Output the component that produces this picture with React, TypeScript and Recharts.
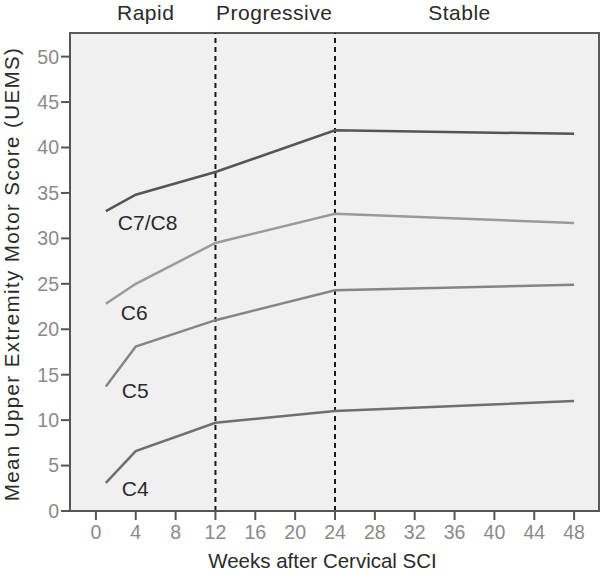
import React from 'react';
import { LineChart, Line, XAxis, YAxis, ReferenceLine, ReferenceArea, LabelList } from 'recharts';

const weeks = [1, 4, 12, 24, 48];
const c78 = [33.0, 34.8, 37.3, 41.9, 41.5];
const c6 = [22.8, 25.0, 29.5, 32.7, 31.7];
const c5 = [13.7, 18.1, 21.0, 24.3, 24.9];
const c4 = [3.1, 6.6, 9.7, 11.0, 12.1];
const xTicks = [0, 4, 8, 12, 16, 20, 24, 28, 32, 36, 40, 44, 48];
const yTicks = [0, 5, 10, 15, 20, 25, 30, 35, 40, 45, 50];
const phaseBounds = [12, 24];
const phases = [
  { name: 'Rapid', center: 5 },
  { name: 'Progressive', center: 17.9 },
  { name: 'Stable', center: 36.5 },
];

const data = weeks.map((w, i) => ({ week: w, c78: c78[i], c6: c6[i], c5: c5[i], c4: c4[i] }));

const X_DOMAIN: [number, number] = [-2.6, 50.5];
const Y_DOMAIN: [number, number] = [0, 52.6];
const FONT = '"Liberation Sans", Arial, sans-serif';

const series = [
  { key: 'c78', label: 'C7/C8', color: '#555555', dx: 12, dy: 12 },
  { key: 'c6', label: 'C6', color: '#9a9a9a', dx: 15, dy: 9 },
  { key: 'c5', label: 'C5', color: '#858585', dx: 16, dy: 4 },
  { key: 'c4', label: 'C4', color: '#6f6f6f', dx: 16, dy: 6 },
];

const makeLabel = (text: string, dx: number, dy: number) => (props: any) => {
  const { x, y, index } = props;
  if (index !== 0) return null;
  return (
    <text x={x + dx} y={y + dy} dy="0.35em" fill="#2a2a2a" fontSize={21} fontFamily={FONT}>
      {text}
    </text>
  );
};

export default function App() {
  return (
    <div style={{ position: 'absolute', left: 0, top: 0, background: '#fff' }}>
      <LineChart width={601} height={578} data={data} margin={{ top: 33, right: 2, bottom: 37, left: 10 }}>
        <ReferenceArea
          x1={X_DOMAIN[0]}
          x2={X_DOMAIN[1]}
          y1={Y_DOMAIN[0]}
          y2={Y_DOMAIN[1]}
          fill="#f0f0f0"
          fillOpacity={1}
          stroke="#5a5a5a"
          strokeWidth={2}
        />
        <XAxis
          type="number"
          dataKey="week"
          domain={X_DOMAIN}
          ticks={xTicks}
          allowDataOverflow
          height={30}
          tickSize={9}
          tickMargin={5}
          stroke="#555"
          strokeWidth={2}
          tick={{ fill: '#8a8a8a', fontSize: 19.5, fontFamily: FONT }}
          label={{ value: 'Weeks after Cervical SCI', position: 'bottom', offset: 12, dx: -12, fill: '#2a2a2a', fontSize: 20.5, fontFamily: FONT }}
        />
        <YAxis
          type="number"
          domain={Y_DOMAIN}
          ticks={yTicks}
          allowDataOverflow
          width={60}
          tickSize={9}
          stroke="#555"
          strokeWidth={2}
          tick={{ fill: '#8a8a8a', fontSize: 19.5, fontFamily: FONT }}
          label={{ value: 'Mean Upper Extremity Motor Score (UEMS)', angle: -90, position: 'center', dx: -28, dy: 2, fill: '#2a2a2a', fontSize: 20.5, letterSpacing: 1.4, fontFamily: FONT }}
        />
        {phaseBounds.map((b) => (
          <ReferenceLine key={b} x={b} stroke="#1a1a1a" strokeWidth={2} strokeDasharray="5 4" />
        ))}
        {phases.map((p) => (
          <ReferenceLine
            key={p.name}
            x={p.center}
            stroke="none"
            label={{ value: p.name, position: 'top', offset: 13, fill: '#2a2a2a', fontSize: 21, letterSpacing: 0.5, fontFamily: FONT }}
          />
        ))}
        {series.map((s) => (
          <Line
            key={s.key}
            type="linear"
            dataKey={s.key}
            stroke={s.color}
            strokeWidth={2.5}
            dot={false}
            isAnimationActive={false}
          >
            <LabelList dataKey={s.key} content={makeLabel(s.label, s.dx, s.dy)} />
          </Line>
        ))}
      </LineChart>
    </div>
  );
}
